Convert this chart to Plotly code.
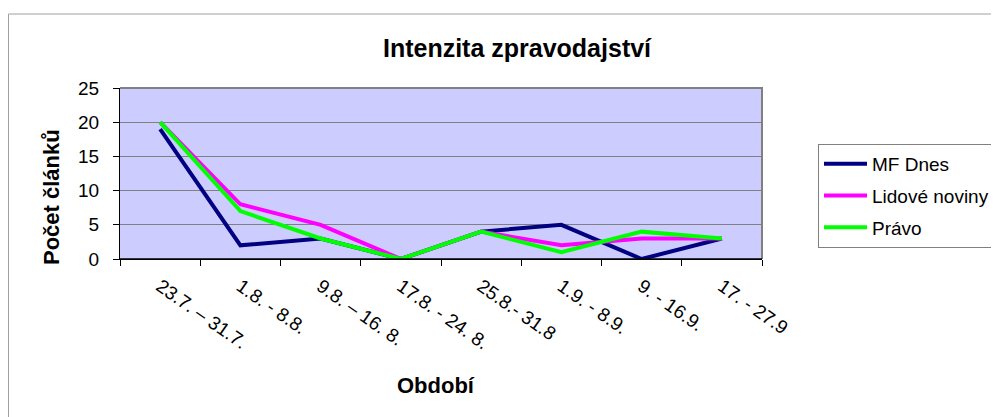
import plotly.graph_objects as go

# období (x categories) and article counts per newspaper
periods = [
    "23.7. – 31.7.", "1.8. - 8.8.", "9.8. – 16. 8.", "17.8. - 24. 8.",
    "25.8.- 31.8", "1.9. - 8.9.", "9. - 16.9.", "17. - 27.9",
]
mf_dnes = [19, 2, 3, 0, 4, 5, 0, 3]
lidove_noviny = [20, 8, 5, 0, 4, 2, 3, 3]
pravo = [20, 7, 3, 0, 4, 1, 4, 3]

series = [
    ("MF Dnes", mf_dnes, "#000080"),
    ("Lidové noviny", lidove_noviny, "#FF00FF"),
    ("Právo", pravo, "#00FF00"),
]

FONT = "Arial, 'Liberation Sans', sans-serif"

# page body adds an 8px offset, so everything is placed 8px up/left
L, T, R, B = 112, 80, 754, 251
PW, PH = R - L, B - T


def px(x):
    return (x - L) / PW


def py(y):
    return (B - y) / PH


fig = go.Figure()
for name, vals, color in series:
    fig.add_trace(go.Scatter(
        x=periods, y=vals, name=name, mode="lines",
        line=dict(color=color, width=4),
        legendgroup=name,
    ))

fig.update_layout(
    width=999, height=417,
    margin=dict(l=L, r=999 - R, t=T, b=417 - B, autoexpand=False),
    paper_bgcolor="white",
    plot_bgcolor="#CCCCFF",
    font=dict(family=FONT, size=17, color="black"),
    title=dict(
        text="<b>Intenzita zpravodajství</b>",
        font=dict(size=25, family=FONT),
        xref="container", x=509 / 999, xanchor="center",
        yref="container", y=1 - 40 / 417, yanchor="middle",
    ),
    showlegend=True,
    legend=dict(
        x=px(810), y=py(136),
        xanchor="left", yanchor="top",
        bgcolor="white", bordercolor="#808080", borderwidth=1,
        font=dict(size=19, family=FONT),
        traceorder="grouped", tracegroupgap=4, itemwidth=43,
    ),
)

fig.update_xaxes(
    type="category", range=[-0.5, 7.5],
    showgrid=False, showline=True, linecolor="black", linewidth=1,
    ticks="outside", tickson="boundaries", ticklen=6, tickcolor="black",
    tickangle=35, tickfont=dict(size=19), ticklabelstandoff=8,
)
fig.update_yaxes(
    range=[0, 25], dtick=5,
    showgrid=True, gridcolor="#808080", gridwidth=1,
    zeroline=False, showline=True, linecolor="black", linewidth=1,
    ticks="outside", ticklen=6, tickcolor="black",
    tickfont=dict(size=19), ticklabelstandoff=10,
)

# grey frame on the top and right of the plot area
fig.add_shape(type="path", path="M 0,1 L 1,1 L 1,0", xref="paper", yref="paper",
              line=dict(color="#808080", width=2), layer="above")
# black baseline at 0
fig.add_shape(type="line", x0=0, x1=1, y0=0, y1=0, xref="paper", yref="paper",
              line=dict(color="black", width=1.5), layer="above")
# outer chart border
fig.add_shape(type="rect", xref="paper", yref="paper",
              x0=px(0.5), x1=px(1010), y0=py(430), y1=py(6),
              line=dict(color="#A0A0A0", width=1))

fig.add_annotation(text="<b>Počet článků</b>", textangle=-90,
                   xref="paper", yref="paper", x=px(43), y=py(189),
                   xanchor="center", yanchor="middle", showarrow=False,
                   font=dict(size=22, family=FONT))
fig.add_annotation(text="<b>Období</b>",
                   xref="paper", yref="paper", x=px(428), y=py(377),
                   xanchor="center", yanchor="middle", showarrow=False,
                   font=dict(size=22, family=FONT))

fig.write_html("out.html")
